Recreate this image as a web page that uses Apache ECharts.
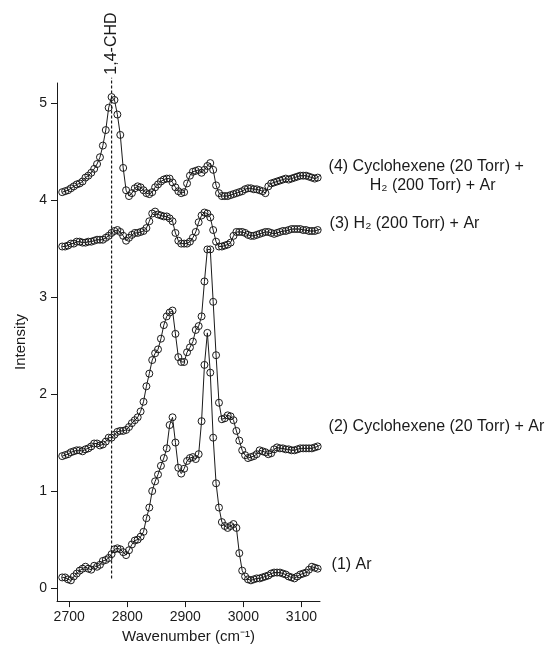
<!DOCTYPE html>
<html>
<head>
<meta charset="utf-8">
<script src="https://cdn.jsdelivr.net/npm/echarts@6/dist/echarts.min.js"></script>
<style>
  html, body { margin: 0; padding: 0; background: #fff; }
  #chart { width: 548px; height: 649px; }
</style>
</head>
<body>
<div id="chart"></div>
<script>
// tick labels
const xTicks = [2700, 2800, 2900, 3000, 3100]
const yTicks = [0, 1, 2, 3, 4, 5]

// wavenumber grid (cm-1), shared by all spectra
const wavenumber = [
  2688, 2693, 2698, 2703, 2708, 2713, 2718, 2723, 2728, 2733,
  2738, 2743, 2748, 2753, 2758, 2763, 2768, 2773, 2778, 2783,
  2788, 2793, 2798, 2803, 2808, 2813, 2818, 2823, 2828, 2833,
  2838, 2843, 2848, 2853, 2858, 2863, 2868, 2873, 2878, 2883,
  2888, 2893, 2898, 2903, 2908, 2913, 2918, 2923, 2928, 2933,
  2938, 2943, 2948, 2953, 2958, 2963, 2968, 2973, 2978, 2983,
  2988, 2993, 2998, 3003, 3008, 3013, 3018, 3023, 3028, 3033,
  3038, 3043, 3048, 3053, 3058, 3063, 3068, 3073, 3078, 3083,
  3088, 3093, 3098, 3103, 3108, 3113, 3118, 3123, 3128, 3133
]

// (1) Ar
const ar = [
  0.11, 0.11, 0.09, 0.08, 0.12, 0.15, 0.18, 0.20, 0.22, 0.20,
  0.19, 0.23, 0.22, 0.24, 0.28, 0.29, 0.31, 0.35, 0.40, 0.41,
  0.40, 0.37, 0.34, 0.39, 0.45, 0.49, 0.50, 0.53, 0.58, 0.72,
  0.83, 1.00, 1.10, 1.17, 1.26, 1.34, 1.44, 1.68, 1.76, 1.50,
  1.24, 1.18, 1.23, 1.31, 1.34, 1.35, 1.33, 1.38, 1.72, 2.30,
  2.63, 2.22, 1.55, 1.08, 0.83, 0.68, 0.64, 0.62, 0.64, 0.66,
  0.62, 0.36, 0.18, 0.12, 0.09, 0.08, 0.09, 0.10, 0.10, 0.11,
  0.12, 0.13, 0.15, 0.16, 0.16, 0.16, 0.15, 0.14, 0.12, 0.11,
  0.10, 0.12, 0.14, 0.15, 0.16, 0.19, 0.22, 0.21, 0.20, 0.19
]

// (2) Cyclohexene (20 Torr) + Ar
const chxAr = [
  1.36, 1.37, 1.38, 1.40, 1.41, 1.42, 1.42, 1.41, 1.43, 1.44,
  1.46, 1.49, 1.49, 1.47, 1.48, 1.51, 1.55, 1.55, 1.58, 1.61,
  1.62, 1.62, 1.63, 1.66, 1.70, 1.73, 1.76, 1.82, 1.92, 2.08,
  2.21, 2.35, 2.42, 2.46, 2.57, 2.71, 2.80, 2.84, 2.86, 2.62,
  2.38, 2.33, 2.33, 2.43, 2.48, 2.54, 2.66, 2.70, 2.80, 3.16,
  3.49, 3.49, 2.95, 2.40, 1.91, 1.74, 1.75, 1.78, 1.77, 1.73,
  1.62, 1.52, 1.42, 1.37, 1.34, 1.35, 1.36, 1.38, 1.42, 1.41,
  1.40, 1.38, 1.39, 1.43, 1.45, 1.44, 1.44, 1.43, 1.43, 1.42,
  1.42, 1.43, 1.44, 1.44, 1.44, 1.44, 1.44, 1.45, 1.46, 1.48
]

// (3) H2 (200 Torr) + Ar
const h2Ar = [
  3.52, 3.52, 3.53, 3.55, 3.55, 3.57, 3.57, 3.56, 3.56, 3.57,
  3.57, 3.58, 3.59, 3.59, 3.59, 3.61, 3.63, 3.66, 3.68, 3.69,
  3.67, 3.63, 3.58, 3.61, 3.64, 3.66, 3.66, 3.67, 3.68, 3.71,
  3.78, 3.86, 3.88, 3.85, 3.84, 3.83, 3.83, 3.81, 3.78, 3.66,
  3.58, 3.55, 3.55, 3.55, 3.57, 3.61, 3.67, 3.77, 3.84, 3.87,
  3.86, 3.82, 3.69, 3.57, 3.52, 3.52, 3.53, 3.54, 3.56, 3.63,
  3.67, 3.67, 3.67, 3.66, 3.64, 3.63, 3.63, 3.64, 3.65, 3.66,
  3.67, 3.67, 3.66, 3.65, 3.66, 3.67, 3.68, 3.68, 3.69, 3.70,
  3.70, 3.70, 3.70, 3.69, 3.69, 3.68, 3.68, 3.68, 3.69, 3.70
]

// (4) Cyclohexene (20 Torr) + H2 (200 Torr) + Ar
const chxH2Ar = [
  4.08, 4.09, 4.10, 4.12, 4.14, 4.16, 4.17, 4.19, 4.23, 4.25,
  4.28, 4.32, 4.37, 4.44, 4.56, 4.72, 4.95, 5.06, 5.03, 4.88,
  4.67, 4.33, 4.10, 4.04, 4.07, 4.12, 4.14, 4.13, 4.10, 4.07,
  4.06, 4.08, 4.13, 4.16, 4.19, 4.21, 4.22, 4.22, 4.18, 4.13,
  4.09, 4.07, 4.08, 4.17, 4.25, 4.29, 4.30, 4.31, 4.28, 4.31,
  4.35, 4.38, 4.31, 4.15, 4.07, 4.04, 4.04, 4.04, 4.05, 4.06,
  4.07, 4.08, 4.09, 4.11, 4.12, 4.12, 4.11, 4.11, 4.10, 4.09,
  4.07, 4.14, 4.17, 4.18, 4.19, 4.20, 4.21, 4.22, 4.21, 4.22,
  4.23, 4.24, 4.25, 4.25, 4.25, 4.24, 4.23, 4.22, 4.23, 4.26
]

// 1,4-CHD marker line
const chdWn = 2773
const chdRange = [0.10, 5.26]

const pairs = (xs, ys) => xs.map((x, i) => [x, ys[i]])

const ink = '#1a1a1a'
const fontFamily = '"Liberation Sans", Arial, Helvetica, sans-serif'

const spectrum = (name, ys) => ({
  name: name,
  type: 'line',
  data: pairs(wavenumber, ys),
  symbol: 'circle',
  symbolSize: 7,
  showAllSymbol: true,
  lineStyle: { color: ink, width: 1 },
  itemStyle: { color: 'rgba(0,0,0,0)', borderColor: ink, borderWidth: 1 },
  emphasis: { disabled: true },
  z: 3
})

const chart = echarts.init(document.getElementById('chart'), null, { renderer: 'canvas' })

const option = {
  animation: false,
  backgroundColor: '#fff',
  textStyle: { fontFamily: fontFamily, color: ink },
  grid: { left: 57, right: 228, top: 83, bottom: 46 },
  xAxis: {
    type: 'value',
    min: 2679,
    max: 3132,
    name: 'Wavenumber (cm⁻¹)',
    nameLocation: 'middle',
    nameGap: 25,
    nameTextStyle: { fontSize: 15, color: ink, fontFamily: fontFamily },
    axisLine: { onZero: false, lineStyle: { color: ink, width: 1 } },
    axisTick: { length: 6, lineStyle: { color: ink }, customValues: xTicks },
    axisLabel: { fontSize: 14, color: ink, margin: 9, customValues: xTicks, formatter: v => String(v) },
    splitLine: { show: false }
  },
  yAxis: {
    type: 'value',
    min: -0.134,
    max: 5.205,
    name: 'Intensity',
    nameLocation: 'middle',
    nameGap: 29,
    nameTextStyle: { fontSize: 15, color: ink, fontFamily: fontFamily },
    axisLine: { show: true, onZero: false, lineStyle: { color: ink, width: 1 } },
    axisTick: { show: true, length: 6, lineStyle: { color: ink }, customValues: yTicks },
    axisLabel: { fontSize: 14, color: ink, margin: 10, customValues: yTicks, formatter: v => String(v) },
    splitLine: { show: false }
  },
  series: [
    spectrum('(1) Ar', ar),
    spectrum('(2) Cyclohexene (20 Torr) + Ar', chxAr),
    spectrum('(3) H2 (200 Torr) + Ar', h2Ar),
    spectrum('(4) Cyclohexene (20 Torr) + H2 (200 Torr) + Ar', chxH2Ar),
    {
      name: '1,4-CHD',
      type: 'line',
      data: [[chdWn, chdRange[0]], [chdWn, chdRange[1]]],
      symbol: 'none',
      clip: false,
      lineStyle: { color: ink, width: 1.2, type: [3, 2] },
      z: 2
    }
  ]
}

chart.setOption(option)

// 曲线标签，锚定在每条曲线最后一个点
const px = (x, y) => chart.convertToPixel({ xAxisIndex: 0, yAxisIndex: 0 }, [x, y])
const last = ys => px(wavenumber[wavenumber.length - 1], ys[ys.length - 1])

const label = (pos, dx, dy, text, align) => ({
  type: 'text',
  x: pos[0] + dx,
  y: pos[1] + dy,
  style: {
    text: text,
    fill: ink,
    font: '16px ' + fontFamily,
    textAlign: align || 'left',
    textVerticalAlign: 'middle'
  }
})

const p4 = last(chxH2Ar)
const p3 = last(h2Ar)
const p2 = last(chxAr)
const p1 = last(ar)
const chdTop = px(chdWn, chdRange[1])

chart.setOption({
  graphic: [
    label(p4, 8, -8, '(4) Cyclohexene (20 Torr) +'),
    label(p4, 112, 11, 'H₂ (200 Torr) + Ar', 'center'),
    label(p3, 9, -5, '(3) H₂ (200 Torr) + Ar'),
    label(p2, 8, -18, '(2) Cyclohexene (20 Torr) + Ar'),
    label(p1, 11, -5, '(1) Ar'),
    {
      type: 'text',
      x: chdTop[0],
      y: chdTop[1] - 3,
      rotation: Math.PI / 2,
      style: {
        text: '1,4-CHD',
        fill: ink,
        font: '16px ' + fontFamily,
        textAlign: 'left',
        textVerticalAlign: 'middle'
      }
    }
  ]
})
</script>
</body>
</html>
